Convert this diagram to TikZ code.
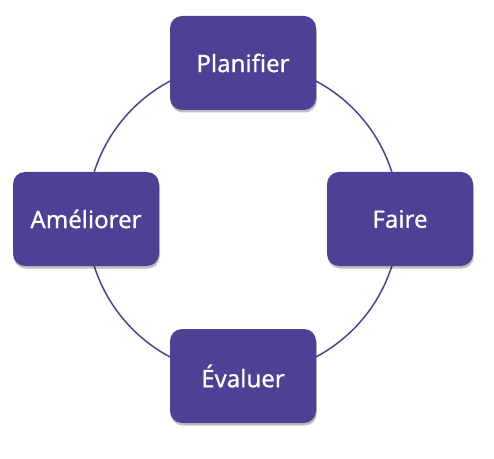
\documentclass[tikz,border=0pt]{standalone}
\usepackage{fontspec}
\setmainfont{Noto Sans}[FakeBold=0.6]
\usetikzlibrary{shadows}
\definecolor{boxpurple}{HTML}{4C4195}
\definecolor{linepurple}{HTML}{4C4195}
\tikzset{
  stagebox/.style={
    draw=none, fill=boxpurple, rounded corners=12pt,
    minimum width=146pt, minimum height=94pt,
    text=white, font=\fontsize{24}{28}\selectfont\bfseries,
    inner sep=0pt,
    drop shadow={shadow xshift=0.8pt, shadow yshift=-2.5pt, opacity=0.25, fill=black}
  },
  ring/.style={draw=linepurple, line width=1.5pt}
}
\begin{document}
\begin{tikzpicture}[x=1pt,y=1pt]
\useasboundingbox (0,0) rectangle (494,458);
\coordinate (c) at (243,239);
\draw[ring] (c) circle (156);
\node[stagebox] (p) at (243,395) {Planifier};
\node[stagebox] (f) at (400,239) {Faire};
\node[stagebox] (e) at (243,82) {Évaluer};
\node[stagebox] (a) at (86,239) {Améliorer};
\end{tikzpicture}
\end{document}
